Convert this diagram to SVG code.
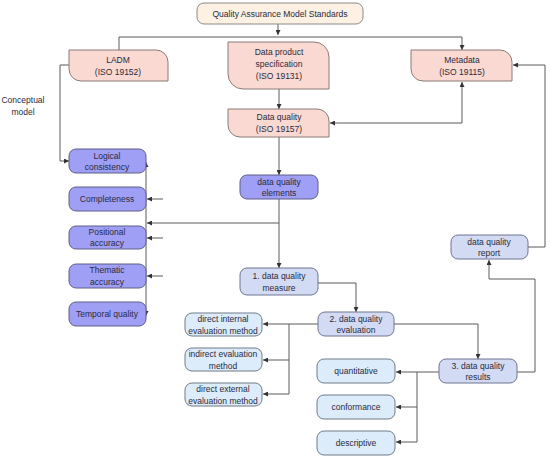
<svg xmlns="http://www.w3.org/2000/svg" width="550" height="459" viewBox="0 0 550 459">
<defs>
<marker id="ah" viewBox="0 0 6 6" refX="6" refY="3" markerWidth="5" markerHeight="5" orient="auto-start-reverse" markerUnits="userSpaceOnUse">
<path d="M0,0 L6,3 L0,6 Z" fill="#333"/>
</marker>
<style>
text{font-family:"Liberation Sans",Arial,sans-serif;font-size:8.5px;fill:#2a2a3a;text-anchor:middle}
.top{fill:#fdf1e3;stroke:#8a8a8a;stroke-width:1}
.pk{fill:#fad9d2;stroke:#8a7a78;stroke-width:1}
.pu{fill:#9f9ff6;stroke:#5f5f88;stroke-width:1}
.lb{fill:#d3dbf4;stroke:#6f7490;stroke-width:1}
.lc{fill:#dcecfa;stroke:#6f7a8a;stroke-width:1}
.c path,.c polyline,.c line{fill:none;stroke:#5a5a5a;stroke-width:1}
.a{marker-end:url(#ah)}
.b{marker-start:url(#ah);marker-end:url(#ah)}
</style>
</defs>
<rect width="550" height="459" fill="#fff"/>

<g class="c" id="connectors">
<line class="a" x1="278" y1="24" x2="278" y2="35"/>
<polyline class="a" points="119,51 119,37 462,37 462,50"/>
<line class="a" x1="279" y1="89" x2="279" y2="109"/>
<polyline class="b" points="462,82 462,123 330,123"/>
<polyline class="a" points="528,247 545,247 545,65 513,65"/>
<polyline class="a" points="69,65 60,65 60,161 69,161"/>
<line class="a" x1="279" y1="137" x2="279" y2="175"/>
<line class="a" x1="279" y1="199" x2="279" y2="268"/>
<line class="a" x1="279" y1="223" x2="147" y2="223"/>
<line class="b" x1="146" y1="162" x2="146" y2="316"/>
<line class="a" x1="163" y1="199" x2="147" y2="199"/>
<line class="a" x1="163" y1="238" x2="147" y2="238"/>
<line class="a" x1="163" y1="276" x2="147" y2="276"/>
<polyline class="a" points="318,283 356,283 356,312"/>
<line class="a" x1="318" y1="324" x2="263" y2="324"/>
<polyline points="289,324 289,394"/>
<line class="a" x1="289" y1="360" x2="263" y2="360"/>
<line class="a" x1="289" y1="394" x2="263" y2="394"/>
<polyline class="a" points="394,324 478,324 478,359"/>
<polyline class="a" points="517,372 535,372 535,279 489,279 489,260"/>
<line class="a" x1="439" y1="372" x2="396" y2="372"/>
<polyline points="417,372 417,442"/>
<line class="a" x1="417" y1="407" x2="396" y2="407"/>
<line class="a" x1="417" y1="442" x2="396" y2="442"/>
</g>

<g id="n-standards"><rect class="top" x="197" y="3" width="166" height="21" rx="7"/><text x="280" y="16.5">Quality Assurance Model Standards</text></g>

<g id="n-ladm"><path class="pk" d="M69,50 H156 A12,12 0 0 1 168,62 V81 H81 A12,12 0 0 1 69,69 Z"/><text x="118" y="63">LADM</text><text x="118" y="75">(ISO 19152)</text></g>
<g id="n-dps"><path class="pk" d="M228,42 H314 A15,15 0 0 1 329,57 V89 H243 A15,15 0 0 1 228,74 Z"/><text x="279" y="55">Data product</text><text x="279" y="67">specification</text><text x="279" y="79">(ISO 19131)</text></g>
<g id="n-metadata"><path class="pk" d="M411,50 H500 A12,12 0 0 1 512,62 V81 H423 A12,12 0 0 1 411,69 Z"/><text x="462" y="63">Metadata</text><text x="462" y="75">(ISO 19115)</text></g>
<g id="n-dq"><path class="pk" d="M228,109 H317 A12,12 0 0 1 329,121 V137 H240 A12,12 0 0 1 228,125 Z"/><text x="279" y="120">Data quality</text><text x="279" y="132">(ISO 19157)</text></g>

<text x="23" y="103">Conceptual</text><text x="23" y="115">model</text>

<g id="n-logical"><rect class="pu" x="69" y="149" width="77" height="24" rx="7"/><text x="107" y="159">Logical</text><text x="107" y="170">consistency</text></g>
<g id="n-completeness"><rect class="pu" x="69" y="187" width="77" height="24" rx="7"/><text x="107" y="202">Completeness</text></g>
<g id="n-positional"><rect class="pu" x="69" y="226" width="77" height="23" rx="7"/><text x="107" y="235">Positional</text><text x="107" y="246">accuracy</text></g>
<g id="n-thematic"><rect class="pu" x="69" y="264" width="77" height="24" rx="7"/><text x="107" y="273">Thematic</text><text x="107" y="285">accuracy</text></g>
<g id="n-temporal"><rect class="pu" x="69" y="302" width="77" height="24" rx="7"/><text x="107" y="317">Temporal quality</text></g>

<g id="n-elements"><rect class="pu" x="240" y="175" width="78" height="24" rx="7"/><text x="279" y="184.5">data quality</text><text x="279" y="196">elements</text></g>
<g id="n-measure"><rect class="lb" x="240" y="268" width="78" height="27" rx="7"/><text x="279" y="279">1. data quality</text><text x="279" y="291">measure</text></g>
<g id="n-evaluation"><rect class="lb" x="318" y="312" width="76" height="24" rx="7"/><text x="356" y="321.5">2. data quality</text><text x="356" y="333">evaluation</text></g>
<g id="n-results"><rect class="lb" x="439" y="359" width="78" height="24" rx="7"/><text x="478" y="368.5">3. data quality</text><text x="478" y="380">results</text></g>
<g id="n-report"><rect class="lb" x="451" y="235" width="77" height="24" rx="7"/><text x="489" y="244.5">data quality</text><text x="489" y="256">report</text></g>

<g id="n-direct-internal"><rect class="lc" x="185" y="313" width="77" height="23" rx="7"/><text x="223" y="322">direct internal</text><text x="223" y="333.5">evaluation method</text></g>
<g id="n-indirect"><rect class="lc" x="185" y="348" width="77" height="23" rx="7"/><text x="223" y="357">indirect evaluation</text><text x="223" y="368.5">method</text></g>
<g id="n-direct-external"><rect class="lc" x="185" y="383" width="77" height="23" rx="7"/><text x="223" y="392">direct external</text><text x="223" y="403.5">evaluation method</text></g>

<g id="n-quantitative"><rect class="lc" x="317" y="359" width="78" height="24" rx="7"/><text x="356" y="374">quantitative</text></g>
<g id="n-conformance"><rect class="lc" x="317" y="395" width="78" height="24" rx="7"/><text x="356" y="410">conformance</text></g>
<g id="n-descriptive"><rect class="lc" x="317" y="431" width="78" height="24" rx="7"/><text x="356" y="446">descriptive</text></g>
</svg>
